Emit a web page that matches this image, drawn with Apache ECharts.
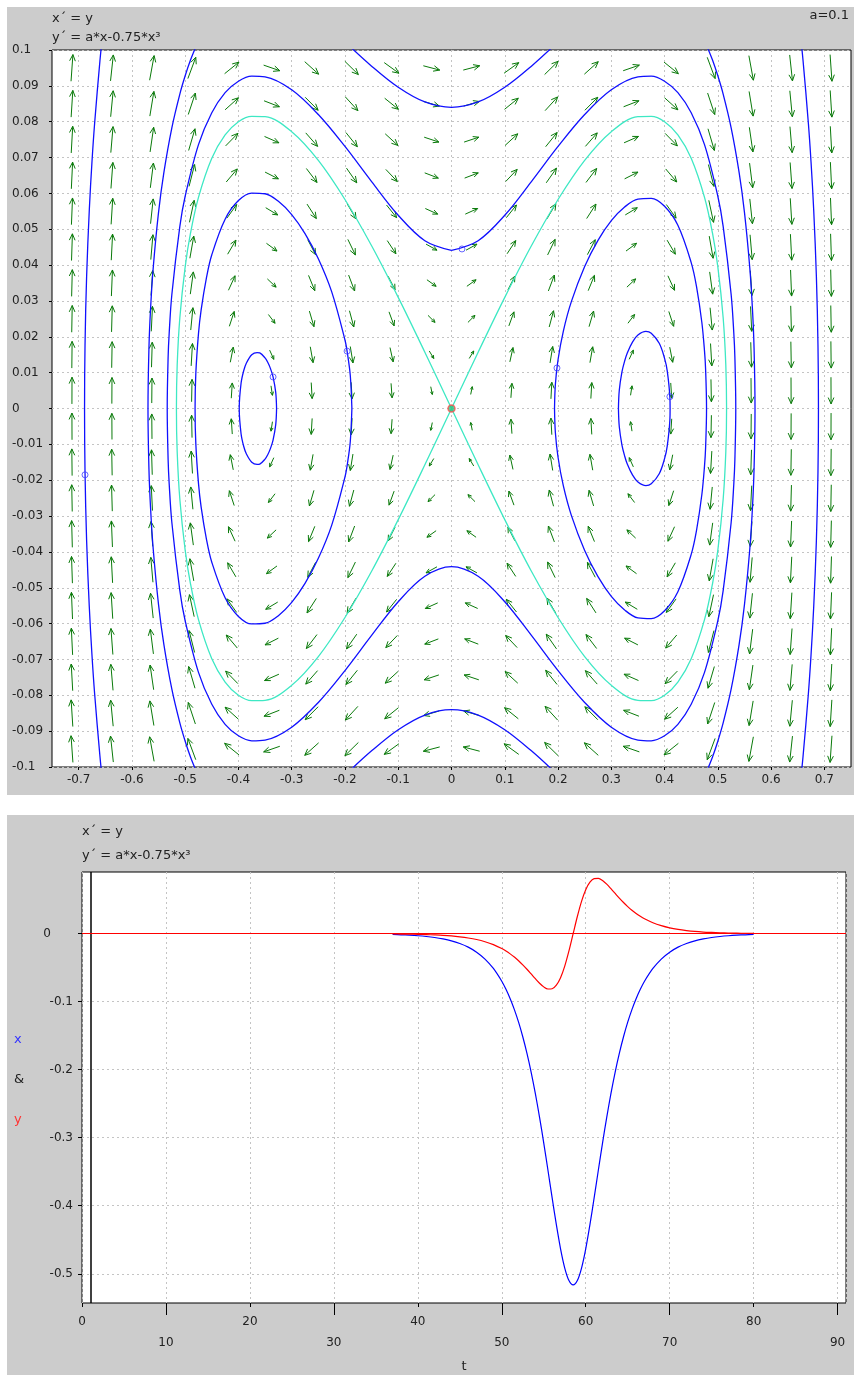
<!DOCTYPE html>
<html>
<head>
<meta charset="utf-8">
<script src="https://cdn.jsdelivr.net/npm/echarts@6/dist/echarts.min.js"></script>
<style>
  html, body { margin: 0; padding: 0; background: #ffffff; }
  #chart { width: 854px; height: 1375px; }
</style>
</head>
<body>
<div id="chart"></div>
<script>
// ---- phase plane: direction field grid ----
const fieldX = [-0.7125, -0.6375, -0.5625, -0.4875, -0.4125, -0.3375, -0.2625, -0.1875, -0.1125, -0.0375,
  0.0375, 0.1125, 0.1875, 0.2625, 0.3375, 0.4125, 0.4875, 0.5625, 0.6375, 0.7125]
const fieldY = [0.095, 0.085, 0.075, 0.065, 0.055, 0.045, 0.035, 0.025, 0.015, 0.005,
  -0.005, -0.015, -0.025, -0.035, -0.045, -0.055, -0.065, -0.075, -0.085, -0.095]
// x' read per row, y' read per column
const rowRate = [0.095, 0.085, 0.075, 0.065, 0.055, 0.045, 0.035, 0.025, 0.015, 0.005,
  -0.005, -0.015, -0.025, -0.035, -0.045, -0.055, -0.065, -0.075, -0.085, -0.095]
const colRate = [0.2, 0.1306, 0.0772, 0.0381, 0.0114, -0.0049, -0.0127, -0.0138, -0.0102, -0.0037,
  0.0037, 0.0102, 0.0138, 0.0127, 0.0049, -0.0114, -0.0381, -0.0772, -0.1306, -0.2]

// ---- phase plane: trajectories ----
const sepRight = [[0, 0], [0.05, 0.0157], [0.1, 0.031], [0.15, 0.0454], [0.2, 0.0583], [0.25, 0.0692], [0.3, 0.0772], [0.35, 0.0814], [0.375, 0.0815], [0.4, 0.08], [0.425, 0.0763], [0.45, 0.0698], [0.475, 0.0589], [0.49, 0.0489], [0.5, 0.0395], [0.51, 0.0253], [0.515, 0.012], [0.5164, 0],
  [0.515, -0.012], [0.51, -0.0253], [0.5, -0.0395], [0.49, -0.0489], [0.475, -0.0589], [0.45, -0.0698], [0.425, -0.0763], [0.4, -0.08], [0.375, -0.0815], [0.35, -0.0814], [0.3, -0.0772], [0.25, -0.0692], [0.2, -0.0583], [0.15, -0.0454], [0.1, -0.031], [0.05, -0.0157], [0, 0]]
const sepLeft = [[0, 0], [-0.05, -0.0157], [-0.1, -0.031], [-0.15, -0.0454], [-0.2, -0.0583], [-0.25, -0.0692], [-0.3, -0.0772], [-0.35, -0.0814], [-0.375, -0.0815], [-0.4, -0.08], [-0.425, -0.0763], [-0.45, -0.0698], [-0.475, -0.0589], [-0.49, -0.0489], [-0.5, -0.0395], [-0.51, -0.0253], [-0.515, -0.012], [-0.5164, 0],
  [-0.515, 0.012], [-0.51, 0.0253], [-0.5, 0.0395], [-0.49, 0.0489], [-0.475, 0.0589], [-0.45, 0.0698], [-0.425, 0.0763], [-0.4, 0.08], [-0.375, 0.0815], [-0.35, 0.0814], [-0.3, 0.0772], [-0.25, 0.0692], [-0.2, 0.0583], [-0.15, 0.0454], [-0.1, 0.031], [-0.05, 0.0157], [0, 0]]
const outerLoop = [[0, 0.0441], [0.05, 0.0468], [0.1, 0.0539], [0.15, 0.0633], [0.2, 0.0731], [0.25, 0.082], [0.3, 0.0889], [0.35, 0.0925], [0.375, 0.0927], [0.4, 0.0913], [0.425, 0.0881], [0.45, 0.0825], [0.475, 0.0736], [0.5, 0.0592], [0.51, 0.0508], [0.525, 0.0318], [0.53, 0.021], [0.532, 0.0143], [0.5337, 0],
  [0.532, -0.0143], [0.53, -0.021], [0.525, -0.0318], [0.51, -0.0508], [0.5, -0.0592], [0.475, -0.0736], [0.45, -0.0825], [0.425, -0.0881], [0.4, -0.0913], [0.375, -0.0927], [0.35, -0.0925], [0.3, -0.0889], [0.25, -0.082], [0.2, -0.0731], [0.15, -0.0633], [0.1, -0.0539], [0.05, -0.0468], [0, -0.0441],
  [-0.05, -0.0468], [-0.1, -0.0539], [-0.15, -0.0633], [-0.2, -0.0731], [-0.25, -0.082], [-0.3, -0.0889], [-0.35, -0.0925], [-0.375, -0.0927], [-0.4, -0.0913], [-0.425, -0.0881], [-0.45, -0.0825], [-0.475, -0.0736], [-0.5, -0.0592], [-0.51, -0.0508], [-0.525, -0.0318], [-0.53, -0.021], [-0.532, -0.0143], [-0.5337, 0],
  [-0.532, 0.0143], [-0.53, 0.021], [-0.525, 0.0318], [-0.51, 0.0508], [-0.5, 0.0592], [-0.475, 0.0736], [-0.45, 0.0825], [-0.425, 0.0881], [-0.4, 0.0913], [-0.375, 0.0927], [-0.35, 0.0925], [-0.3, 0.0889], [-0.25, 0.082], [-0.2, 0.0731], [-0.15, 0.0633], [-0.1, 0.0539], [-0.05, 0.0468], [0, 0.0441]]
const topArc = [[-0.2, 0.1023], [-0.15, 0.0955], [-0.1, 0.0896], [-0.05, 0.0855], [0, 0.084], [0.05, 0.0855], [0.1, 0.0896], [0.15, 0.0955], [0.2, 0.1023]]
const bottomArc = [[-0.2, -0.1023], [-0.15, -0.0955], [-0.1, -0.0896], [-0.05, -0.0855], [0, -0.084], [0.05, -0.0855], [0.1, -0.0896], [0.15, -0.0955], [0.2, -0.1023]]
const rightArc = [[0.475, 0.1026], [0.48, 0.1009], [0.49, 0.0972], [0.5, 0.0928], [0.51, 0.0877], [0.525, 0.0783], [0.54, 0.0658], [0.55, 0.0547], [0.56, 0.0392], [0.565, 0.0277], [0.568, 0.0169], [0.5698, 0],
  [0.568, -0.0169], [0.565, -0.0277], [0.56, -0.0392], [0.55, -0.0547], [0.54, -0.0658], [0.525, -0.0783], [0.51, -0.0877], [0.5, -0.0928], [0.49, -0.0972], [0.48, -0.1009], [0.475, -0.1026]]
const leftArc = [[-0.475, 0.1026], [-0.48, 0.1009], [-0.49, 0.0972], [-0.5, 0.0928], [-0.51, 0.0877], [-0.525, 0.0783], [-0.54, 0.0658], [-0.55, 0.0547], [-0.56, 0.0392], [-0.565, 0.0277], [-0.568, 0.0169], [-0.5698, 0],
  [-0.568, -0.0169], [-0.565, -0.0277], [-0.56, -0.0392], [-0.55, -0.0547], [-0.54, -0.0658], [-0.525, -0.0783], [-0.51, -0.0877], [-0.5, -0.0928], [-0.49, -0.0972], [-0.48, -0.1009], [-0.475, -0.1026]]
const farRight = [[0.655, 0.1043], [0.66, 0.097], [0.67, 0.0795], [0.675, 0.0687], [0.68, 0.0553], [0.685, 0.0369], [0.688, 0.0177], [0.6889, 0],
  [0.688, -0.0177], [0.685, -0.0369], [0.68, -0.0553], [0.675, -0.0687], [0.67, -0.0795], [0.66, -0.097], [0.655, -0.1043]]
const farLeft = [[-0.655, 0.1043], [-0.66, 0.097], [-0.67, 0.0795], [-0.675, 0.0687], [-0.68, 0.0553], [-0.685, 0.0369], [-0.688, 0.0177], [-0.6889, 0],
  [-0.688, -0.0177], [-0.685, -0.0369], [-0.68, -0.0553], [-0.675, -0.0687], [-0.67, -0.0795], [-0.66, -0.097], [-0.655, -0.1043]]
const leftBig = [[-0.187, 0], [-0.19, 0.0092], [-0.195, 0.015], [-0.2, 0.0191], [-0.225, 0.0326], [-0.25, 0.0418], [-0.275, 0.0488], [-0.3, 0.0541], [-0.325, 0.0578], [-0.35, 0.0599], [-0.375, 0.0601], [-0.4, 0.058], [-0.425, 0.0528], [-0.45, 0.0429], [-0.46, 0.0365], [-0.47, 0.0275], [-0.475, 0.0209], [-0.48, 0.0098], [-0.4814, 0],
  [-0.48, -0.0098], [-0.475, -0.0209], [-0.47, -0.0275], [-0.46, -0.0365], [-0.45, -0.0429], [-0.425, -0.0528], [-0.4, -0.058], [-0.375, -0.0601], [-0.35, -0.0599], [-0.325, -0.0578], [-0.3, -0.0541], [-0.275, -0.0488], [-0.25, -0.0418], [-0.225, -0.0326], [-0.2, -0.0191], [-0.195, -0.015], [-0.19, -0.0092], [-0.187, 0]]
const leftSmall = [[-0.3284, 0], [-0.33, 0.0045], [-0.335, 0.0088], [-0.34, 0.0112], [-0.345, 0.0129], [-0.35, 0.0141], [-0.36, 0.0155], [-0.365, 0.0156], [-0.375, 0.015], [-0.385, 0.0127], [-0.39, 0.0106], [-0.395, 0.0071], [-0.3985, 0],
  [-0.395, -0.0071], [-0.39, -0.0106], [-0.385, -0.0127], [-0.375, -0.015], [-0.365, -0.0156], [-0.36, -0.0155], [-0.35, -0.0141], [-0.345, -0.0129], [-0.34, -0.0112], [-0.335, -0.0088], [-0.33, -0.0045], [-0.3284, 0]]
const rightBig = [[0.1934, 0], [0.195, 0.0067], [0.2, 0.0136], [0.21, 0.0216], [0.225, 0.0298], [0.25, 0.0396], [0.275, 0.0469], [0.3, 0.0524], [0.325, 0.0562], [0.35, 0.0584], [0.375, 0.0586], [0.4, 0.0564], [0.425, 0.0511], [0.45, 0.0407], [0.46, 0.034], [0.47, 0.024], [0.475, 0.016], [0.477, 0.0111], [0.4788, 0],
  [0.477, -0.0111], [0.475, -0.016], [0.47, -0.024], [0.46, -0.034], [0.45, -0.0407], [0.425, -0.0511], [0.4, -0.0564], [0.375, -0.0586], [0.35, -0.0584], [0.325, -0.0562], [0.3, -0.0524], [0.275, -0.0469], [0.25, -0.0396], [0.225, -0.0298], [0.21, -0.0216], [0.2, -0.0136], [0.195, -0.0067], [0.1934, 0]]
const rightSmall = [[0.3134, 0], [0.315, 0.0051], [0.32, 0.0102], [0.325, 0.0132], [0.33, 0.0155], [0.34, 0.0186], [0.35, 0.0205], [0.365, 0.0215], [0.375, 0.021], [0.39, 0.0182], [0.4, 0.014], [0.405, 0.0105], [0.41, 0.0031], [0.4104, 0],
  [0.41, -0.0031], [0.405, -0.0105], [0.4, -0.014], [0.39, -0.0182], [0.375, -0.021], [0.365, -0.0215], [0.35, -0.0205], [0.34, -0.0186], [0.33, -0.0155], [0.325, -0.0132], [0.32, -0.0102], [0.315, -0.0051], [0.3134, 0]]
// starting points of the blue trajectories
const startPts = [[-0.335, 0.0088], [-0.196, 0.016], [0.198, 0.0113], [0.41, 0.0033], [-0.688, -0.0185], [0.0197, 0.0445]]
const originPt = [[0, 0]]
const phaseXTicks = [-0.7, -0.6, -0.5, -0.4, -0.3, -0.2, -0.1, 0, 0.1, 0.2, 0.3, 0.4, 0.5, 0.6, 0.7]

// ---- time series ----
const tVals = [37, 38, 39, 40, 41, 42, 43, 44, 45, 46, 47, 48, 49, 50, 50.5, 51, 51.5, 52, 52.5, 53, 53.5, 54, 54.5, 55, 55.5, 56, 56.5, 57, 57.5, 58,
  58.5, 59, 59.5, 60, 60.5, 61, 61.5, 62, 62.5, 63, 63.5, 64, 64.5, 65, 65.5, 66, 66.5, 67, 68, 69, 70, 71, 72, 73, 74, 75, 76, 77, 78, 79, 80]
const xVals = [-0.0012, -0.0016, -0.0022, -0.003, -0.0041, -0.0056, -0.0077, -0.0105, -0.0145, -0.0198, -0.0272, -0.0373, -0.0511, -0.0699, -0.0818, -0.0956, -0.1116, -0.1301, -0.1515, -0.176, -0.2038, -0.2352, -0.27, -0.3078, -0.3478, -0.3885, -0.4279, -0.4633, -0.4916, -0.51,
  -0.5164, -0.51, -0.4916, -0.4633, -0.4279, -0.3885, -0.3478, -0.3078, -0.27, -0.2352, -0.2038, -0.176, -0.1515, -0.1301, -0.1116, -0.0956, -0.0818, -0.0699, -0.0511, -0.0373, -0.0272, -0.0198, -0.0145, -0.0105, -0.0077, -0.0056, -0.0041, -0.003, -0.0022, -0.0016, -0.0012]
const yVals = [-0.0004, -0.0005, -0.0007, -0.0009, -0.0013, -0.0018, -0.0024, -0.0033, -0.0046, -0.0063, -0.0086, -0.0118, -0.0161, -0.0219, -0.0255, -0.0297, -0.0344, -0.0398, -0.0458, -0.0523, -0.0592, -0.0662, -0.0728, -0.0782, -0.0813, -0.0809, -0.0757, -0.0647, -0.0476, -0.0253,
  0, 0.0253, 0.0476, 0.0647, 0.0757, 0.0809, 0.0813, 0.0782, 0.0728, 0.0662, 0.0592, 0.0523, 0.0458, 0.0398, 0.0344, 0.0297, 0.0255, 0.0219, 0.0161, 0.0118, 0.0086, 0.0063, 0.0046, 0.0033, 0.0024, 0.0018, 0.0013, 0.0009, 0.0007, 0.0005, 0.0004]
const timeYTicks = [0, -0.1, -0.2, -0.3, -0.4, -0.5]
const timeLongTicks = [10, 30, 50, 70, 90]
const cursorT = 1

const FONT = 'DejaVu Sans'
const GRID_LINE = { show: true, lineStyle: { color: '#c4c4c4', type: [2, 3], width: 1 } }
const NO_LINE = { show: false, onZero: false }

const arrowData = []
fieldY.forEach((y, j) => {
  fieldX.forEach((x, i) => {
    arrowData.push([x, y, rowRate[j], colRate[i]])
  })
})

function renderArrow(params, api) {
  const c = api.coord([api.value(0), api.value(1)])
  const s = api.size([1, 1])
  const vx = api.value(2) * s[0]
  const vy = -api.value(3) * s[1]
  const m = Math.hypot(vx, vy)
  if (!m) return
  const len = 28 * m / (m + 34)
  const ux = vx / m
  const uy = vy / m
  const tail = [c[0] - ux * len / 2, c[1] - uy * len / 2]
  const tip = [c[0] + ux * len / 2, c[1] + uy * len / 2]
  const h = Math.min(7, 0.4 * len)
  const back = Math.atan2(-uy, -ux)
  const p1 = [tip[0] + h * Math.cos(back + 0.42), tip[1] + h * Math.sin(back + 0.42)]
  const p2 = [tip[0] + h * Math.cos(back - 0.42), tip[1] + h * Math.sin(back - 0.42)]
  const st = { stroke: '#0a7a0a', lineWidth: 1, fill: null }
  return {
    type: 'group',
    children: [
      { type: 'line', shape: { x1: tail[0], y1: tail[1], x2: tip[0], y2: tip[1] }, style: st },
      { type: 'polyline', shape: { points: [p1, tip, p2] }, style: st }
    ]
  }
}

function curve(data, color) {
  return {
    type: 'line',
    xAxisIndex: 0,
    yAxisIndex: 0,
    data: data,
    smooth: 0.35,
    showSymbol: false,
    silent: true,
    z: 3,
    lineStyle: { color: color, width: 1.3 }
  }
}

const chart = echarts.init(document.getElementById('chart'), null, { renderer: 'canvas' })

chart.setOption({
  animation: false,
  backgroundColor: '#ffffff',
  textStyle: { fontFamily: FONT },
  graphic: [
    { type: 'rect', z: -10, shape: { x: 7, y: 7, width: 847, height: 788 }, style: { fill: '#cccccc' } },
    { type: 'rect', z: -10, shape: { x: 7, y: 815, width: 847, height: 560 }, style: { fill: '#cccccc' } },
    { type: 'text', left: 52, top: 12, style: { text: 'x´ = y', font: '13px "DejaVu Sans"', fill: '#222' } },
    { type: 'text', left: 52, top: 31, style: { text: 'y´ = a*x-0.75*x³', font: '13px "DejaVu Sans"', fill: '#222' } },
    { type: 'text', right: 5, top: 9, style: { text: 'a=0.1', font: '13px "DejaVu Sans"', fill: '#222' } },
    { type: 'text', left: 82, top: 825, style: { text: 'x´ = y', font: '13px "DejaVu Sans"', fill: '#222' } },
    { type: 'text', left: 82, top: 849, style: { text: 'y´ = a*x-0.75*x³', font: '13px "DejaVu Sans"', fill: '#222' } },
    { type: 'text', left: 14, top: 1033, style: { text: 'x', font: '13px "DejaVu Sans"', fill: '#3333ff' } },
    { type: 'text', left: 14, top: 1073, style: { text: '&', font: '13px "DejaVu Sans"', fill: '#222' } },
    { type: 'text', left: 14, top: 1113, style: { text: 'y', font: '13px "DejaVu Sans"', fill: '#ff3333' } }
  ],
  grid: [
    { left: 52, top: 50, width: 799, height: 717, show: true, backgroundColor: '#ffffff', borderColor: '#000', borderWidth: 1 },
    { left: 82, top: 872, width: 764, height: 431, show: true, backgroundColor: '#ffffff', borderColor: '#000', borderWidth: 1 }
  ],
  xAxis: [
    {
      type: 'value', gridIndex: 0, position: 'bottom', min: -0.75, max: 0.75,
      axisLine: NO_LINE,
      axisTick: { show: true, length: 3, customValues: phaseXTicks, lineStyle: { color: '#000' } },
      axisLabel: { customValues: phaseXTicks, margin: 7, color: '#222', fontSize: 12, fontFamily: FONT, formatter: v => String(v) },
      splitLine: GRID_LINE
    },
    {
      type: 'value', gridIndex: 1, position: 'bottom', min: 0, max: 91, interval: 10,
      name: 't', nameLocation: 'middle', nameGap: 57,
      nameTextStyle: { color: '#222', fontSize: 13, fontFamily: FONT },
      axisLine: NO_LINE,
      axisTick: { show: true, length: 4, lineStyle: { color: '#000' } },
      axisLabel: {
        margin: 8, color: '#222', fontSize: 12, fontFamily: FONT, lineHeight: 21,
        formatter: v => ((v / 10) % 2 === 1 ? '\n' + v : String(v))
      },
      splitLine: GRID_LINE
    },
    {
      type: 'value', gridIndex: 1, position: 'bottom', min: 0, max: 91,
      axisLine: NO_LINE,
      axisTick: { show: true, length: 12, customValues: timeLongTicks, lineStyle: { color: '#000' } },
      axisLabel: { show: false },
      splitLine: { show: false }
    }
  ],
  yAxis: [
    {
      type: 'value', gridIndex: 0, position: 'left', min: -0.1, max: 0.1, interval: 0.01,
      axisLine: NO_LINE,
      axisTick: { show: true, length: 3, lineStyle: { color: '#000' } },
      axisLabel: { margin: 40, align: 'left', color: '#222', fontSize: 12, fontFamily: FONT },
      splitLine: GRID_LINE
    },
    {
      type: 'value', gridIndex: 1, position: 'left', min: -0.543, max: 0.0907,
      axisLine: NO_LINE,
      axisTick: { show: true, length: 4, customValues: timeYTicks, lineStyle: { color: '#000' } },
      axisLabel: {
        customValues: timeYTicks, margin: 9, color: '#222', fontSize: 12, fontFamily: FONT,
        formatter: v => (v === 0 ? '{z|0}' : String(v)),
        rich: { z: { padding: [0, 22, 0, 0], fontSize: 12, fontFamily: FONT, color: '#222' } }
      },
      splitLine: GRID_LINE
    }
  ],
  series: [
    {
      type: 'custom',
      xAxisIndex: 0,
      yAxisIndex: 0,
      renderItem: renderArrow,
      data: arrowData,
      encode: { x: 0, y: 1 },
      silent: true,
      z: 2
    },
    curve(sepRight, '#3ee8c4'),
    curve(sepLeft, '#3ee8c4'),
    curve(outerLoop, '#1010ff'),
    curve(topArc, '#1010ff'),
    curve(bottomArc, '#1010ff'),
    curve(rightArc, '#1010ff'),
    curve(leftArc, '#1010ff'),
    curve(farRight, '#1010ff'),
    curve(farLeft, '#1010ff'),
    curve(leftBig, '#1010ff'),
    curve(leftSmall, '#1010ff'),
    curve(rightBig, '#1010ff'),
    curve(rightSmall, '#1010ff'),
    {
      type: 'scatter', xAxisIndex: 0, yAxisIndex: 0, data: startPts,
      symbol: 'circle', symbolSize: 6, silent: true, z: 4,
      itemStyle: { color: 'rgba(255,255,255,0)', borderColor: '#4040ff', borderWidth: 1 }
    },
    {
      type: 'scatter', xAxisIndex: 0, yAxisIndex: 0, data: originPt,
      symbol: 'circle', symbolSize: 7, silent: true, z: 4,
      itemStyle: { color: '#30c080', borderColor: '#ff5050', borderWidth: 1.5 }
    },
    {
      name: 'x', type: 'line', xAxisIndex: 1, yAxisIndex: 1,
      data: tVals.map((t, i) => [t, xVals[i]]),
      smooth: 0.3, showSymbol: false, silent: true, z: 3,
      lineStyle: { color: '#0000ff', width: 1.2 },
      markLine: {
        silent: true, symbol: 'none', label: { show: false },
        lineStyle: { color: '#000', type: 'solid', width: 1.5 },
        data: [{ xAxis: cursorT }]
      }
    },
    {
      name: 'y', type: 'line', xAxisIndex: 1, yAxisIndex: 1,
      data: tVals.map((t, i) => [t, yVals[i]]),
      smooth: 0.3, showSymbol: false, silent: true, z: 4,
      lineStyle: { color: '#ff0000', width: 1.2 },
      markLine: {
        silent: true, symbol: 'none', label: { show: false },
        lineStyle: { color: '#ff0000', type: 'solid', width: 1.2 },
        data: [{ yAxis: 0 }]
      }
    }
  ]
})
</script>
</body>
</html>
